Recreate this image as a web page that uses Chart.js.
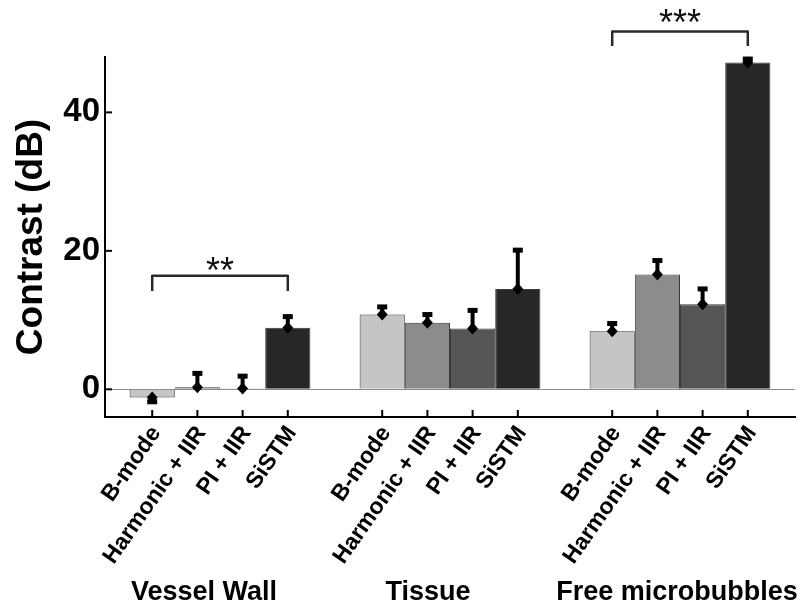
<!DOCTYPE html>
<html><head><meta charset="utf-8">
<script src="https://cdn.jsdelivr.net/npm/chart.js@4.4.1/dist/chart.umd.min.js"></script>
<style>html,body{margin:0;padding:0;background:#fff}#wrap{width:800px;height:611px;position:relative}</style>
</head><body><div id="wrap"><canvas id="c" width="800" height="611"></canvas></div>
<script>
const groups = ['Vessel Wall', 'Tissue', 'Free microbubbles'];
const methods = ['B-mode', 'Harmonic + IIR', 'PI + IIR', 'SiSTM'];
const bModeVals = [-1.2, 10.8, 8.4];
const harmonicVals = [0.3, 9.6, 16.6];
const piVals = [0.1, 8.8, 12.3];
const sistmVals = [8.9, 14.5, 47.2];
const bModeErr = [0.6, 1.1, 1.1];
const harmonicErr = [2.0, 1.2, 2.0];
const piErr = [1.8, 2.6, 2.2];
const sistmErr = [1.6, 5.6, 0.5];
const yTicks = [0, 20, 40];
const sigBrackets = [
  {group: 0, from: 0, to: 3, top: 16.4, leg: 14.2, label: '**', labelY: 18.3},
  {group: 2, from: 0, to: 3, top: 51.7, leg: 49.6, label: '***', labelY: 54.1}
];

const FONT = '"Liberation Sans", Arial, Helvetica, sans-serif';
const barColors = ['#c4c5c4', '#8b8c8c', '#555656', '#272727'];
const allVals = [bModeVals, harmonicVals, piVals, sistmVals];
const allErr = [bModeErr, harmonicErr, piErr, sistmErr];
const groupLabelNudge = [-16, -22, -3];

const overlay = {
  id: 'overlay',
  afterDatasetsDraw(chart) {
    const ctx = chart.ctx;
    const ys = chart.scales.y;
    ctx.save();
    for (let d = 0; d < allVals.length; d++) {
      const meta = chart.getDatasetMeta(d);
      meta.data.forEach((bar, j) => {
        const v = allVals[d][j], e = allErr[d][j];
        const s = v < 0 ? -1 : 1;
        const x = bar.x;
        const y0 = ys.getPixelForValue(v);
        const y1 = ys.getPixelForValue(v + s * e);
        ctx.strokeStyle = '#000';
        ctx.fillStyle = '#000';
        ctx.lineWidth = 4;
        ctx.beginPath(); ctx.moveTo(x, y0); ctx.lineTo(x, y1); ctx.stroke();
        ctx.fillRect(x - 5, y1 - 2.5, 10, 5);
        ctx.beginPath();
        ctx.moveTo(x, y0 - 6); ctx.lineTo(x + 5.5, y0); ctx.lineTo(x, y0 + 6); ctx.lineTo(x - 5.5, y0);
        ctx.closePath(); ctx.fill();
      });
    }
    ctx.restore();
  },
  afterDraw(chart) {
    const ctx = chart.ctx;
    const ys = chart.scales.y;
    const area = chart.chartArea;
    ctx.save();
    ctx.strokeStyle = '#000';
    ctx.lineWidth = 2;
    yTicks.forEach(v => {
      const y = ys.getPixelForValue(v);
      ctx.beginPath(); ctx.moveTo(area.left, y); ctx.lineTo(area.left + 7, y); ctx.stroke();
    });
    for (let d = 0; d < methods.length; d++) {
      chart.getDatasetMeta(d).data.forEach(bar => {
        ctx.beginPath(); ctx.moveTo(bar.x, area.bottom); ctx.lineTo(bar.x, area.bottom - 7); ctx.stroke();
      });
    }
    ctx.fillStyle = '#000';
    ctx.font = 'bold 23px ' + FONT;
    ctx.textAlign = 'right';
    ctx.textBaseline = 'middle';
    for (let d = 0; d < methods.length; d++) {
      chart.getDatasetMeta(d).data.forEach(bar => {
        ctx.save();
        ctx.translate(bar.x + 4, area.bottom + 12);
        ctx.rotate(-55 * Math.PI / 180);
        ctx.fillText(methods[d], 0, 0);
        ctx.restore();
      });
    }
    ctx.font = 'bold 27px ' + FONT;
    ctx.textAlign = 'center';
    ctx.textBaseline = 'middle';
    const xs = chart.scales.x;
    groups.forEach((g, i) => {
      ctx.fillText(g, xs.getPixelForValue(i) + groupLabelNudge[i], 593);
    });
    ctx.strokeStyle = '#2a2a2a';
    ctx.lineWidth = 2.5;
    ctx.lineJoin = 'round';
    sigBrackets.forEach(b => {
      const xa = chart.getDatasetMeta(b.from).data[b.group].x;
      const xb = chart.getDatasetMeta(b.to).data[b.group].x;
      const yt = ys.getPixelForValue(b.top);
      const yl = ys.getPixelForValue(b.leg);
      ctx.beginPath();
      ctx.moveTo(xa, yl); ctx.lineTo(xa, yt); ctx.lineTo(xb, yt); ctx.lineTo(xb, yl);
      ctx.stroke();
      ctx.font = '36px ' + FONT;
      ctx.textAlign = 'center';
      ctx.textBaseline = 'alphabetic';
      ctx.fillStyle = '#111';
      ctx.fillText(b.label, (xa + xb) / 2, ys.getPixelForValue(b.labelY) + 36 * 0.575);
    });
    ctx.restore();
  }
};

new Chart(document.getElementById('c'), {
  type: 'bar',
  data: {
    labels: groups,
    datasets: methods.map((m, d) => ({
      label: m,
      data: allVals[d],
      backgroundColor: barColors[d],
      borderColor: '#3a3a3a',
      borderWidth: 1,
      categoryPercentage: 0.786,
      barPercentage: 1.0
    }))
  },
  options: {
    responsive: false,
    animation: false,
    devicePixelRatio: 1,
    layout: {padding: {top: 57, right: 5, bottom: 194, left: 0}},
    plugins: {legend: {display: false}, tooltip: {enabled: false}},
    scales: {
      x: {
        grid: {display: false, drawTicks: false},
        border: {display: true, color: '#000', width: 2},
        ticks: {display: false}
      },
      y: {
        min: -4, max: 48,
        afterBuildTicks: scale => { scale.ticks = yTicks.map(v => ({value: v})); },
        afterFit: scale => { scale.width = 105; },
        grid: {display: true, drawTicks: false, lineWidth: 1,
               color: c => (c.tick && c.tick.value === 0) ? '#8a8a8a' : 'rgba(0,0,0,0)'},
        border: {display: true, color: '#000', width: 2},
        ticks: {color: '#000', padding: 5, font: {family: FONT, size: 33, weight: 'bold'}},
        title: {display: true, text: 'Contrast (dB)', color: '#000', padding: {top: 10, bottom: 0},
                font: {family: FONT, size: 37, weight: 'bold'}}
      }
    }
  },
  plugins: [overlay]
});
</script>
</body></html>
